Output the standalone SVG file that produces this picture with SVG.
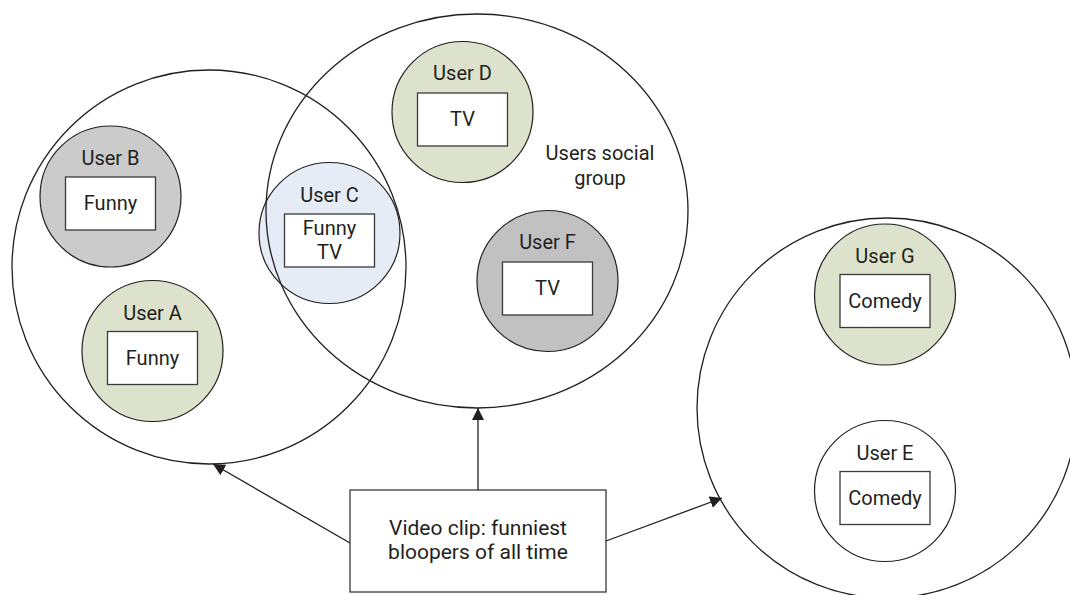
<svg xmlns="http://www.w3.org/2000/svg" width="1070" height="595" viewBox="0 0 1070 595">
  <defs>
    <marker id="arrow" viewBox="0 0 12 12" refX="12" refY="6" markerWidth="12" markerHeight="12" markerUnits="userSpaceOnUse" orient="auto">
      <path d="M0,0 L12,6 L0,12 Z" fill="#231f20"/>
    </marker>
  </defs>
  <style>
    .user { stroke: #231f20; stroke-width: 1.2; }
    .green { fill: #dde2cc; }
    .grey { fill: #cbcbcb; }
    .dgrey { fill: #c1c1c1; }
    .blue { fill: #e5ecf6; }
    .white { fill: #ffffff; }
    .tag { fill: #ffffff; stroke: #3a3a3a; stroke-width: 1.3; }
    .group { fill: none; stroke: #231f20; stroke-width: 1.3; }
    .lbl { font-family: Roboto, "Open Sans", sans-serif; font-size: 20px; fill: #231f20; text-anchor: middle; }
    .big { font-size: 21px; }
    .link { stroke: #231f20; stroke-width: 1.3; fill: none; marker-end: url(#arrow); }
  </style>
  <rect width="1070" height="595" fill="#ffffff"/>

  <!-- users -->
  <g id="user-b">
    <circle class="user grey" cx="110.5" cy="196.5" r="70.5"/>
    <rect class="tag" x="65.5" y="177" width="90" height="53"/>
    <text class="lbl" x="110.5" y="165">User B</text>
    <text class="lbl" x="110.5" y="210">Funny</text>
  </g>
  <g id="user-a">
    <circle class="user green" cx="152.5" cy="351" r="70.5"/>
    <rect class="tag" x="107.5" y="331.5" width="90" height="53"/>
    <text class="lbl" x="152.5" y="319.5">User A</text>
    <text class="lbl" x="152.5" y="364.5">Funny</text>
  </g>
  <g id="user-c">
    <circle class="user blue" cx="329.5" cy="233" r="70.5"/>
    <rect class="tag" x="284.5" y="214" width="90" height="53"/>
    <text class="lbl" x="329.5" y="201.5">User C</text>
    <text class="lbl" x="329.5" y="235">Funny</text>
    <text class="lbl" x="329.5" y="259">TV</text>
  </g>
  <g id="user-d">
    <circle class="user green" cx="462.5" cy="112" r="70.5"/>
    <rect class="tag" x="417.5" y="93" width="90" height="53"/>
    <text class="lbl" x="462.5" y="80">User D</text>
    <text class="lbl" x="462.5" y="126">TV</text>
  </g>
  <g id="user-f">
    <circle class="user dgrey" cx="547.5" cy="281" r="70.5"/>
    <rect class="tag" x="502.5" y="262" width="90" height="53"/>
    <text class="lbl" x="547.5" y="249">User F</text>
    <text class="lbl" x="547.5" y="295">TV</text>
  </g>
  <g id="user-g">
    <circle class="user green" cx="885" cy="294.5" r="70.5"/>
    <rect class="tag" x="840" y="274.5" width="90" height="53"/>
    <text class="lbl" x="885" y="263">User G</text>
    <text class="lbl" x="885" y="308">Comedy</text>
  </g>
  <g id="user-e">
    <circle class="user white" cx="885" cy="491" r="70.5"/>
    <rect class="tag" x="840" y="471.5" width="90" height="53"/>
    <text class="lbl" x="885" y="459.5">User E</text>
    <text class="lbl" x="885" y="505">Comedy</text>
  </g>

  <!-- group outlines drawn over the member circles -->
  <g id="group-left">
    <circle class="group" cx="209" cy="267" r="197"/>
  </g>
  <g id="group-social">
    <ellipse class="group" cx="477" cy="211" rx="211" ry="197"/>
    <text class="lbl" x="600" y="160">Users social</text>
    <text class="lbl" x="600" y="185">group</text>
  </g>
  <g id="group-right">
    <circle class="group" cx="887" cy="408" r="190"/>
  </g>

  <!-- source clip -->
  <g id="clip">
    <rect class="tag" x="350" y="490" width="256" height="102"/>
    <text class="lbl big" x="478" y="535">Video clip: funniest</text>
    <text class="lbl big" x="478" y="559">bloopers of all time</text>
  </g>

  <g id="connectors">
    <line class="link" x1="350" y1="543" x2="213" y2="464"/>
    <line class="link" x1="478" y1="490" x2="478" y2="408"/>
    <line class="link" x1="606" y1="541" x2="722" y2="498"/>
  </g>
</svg>
